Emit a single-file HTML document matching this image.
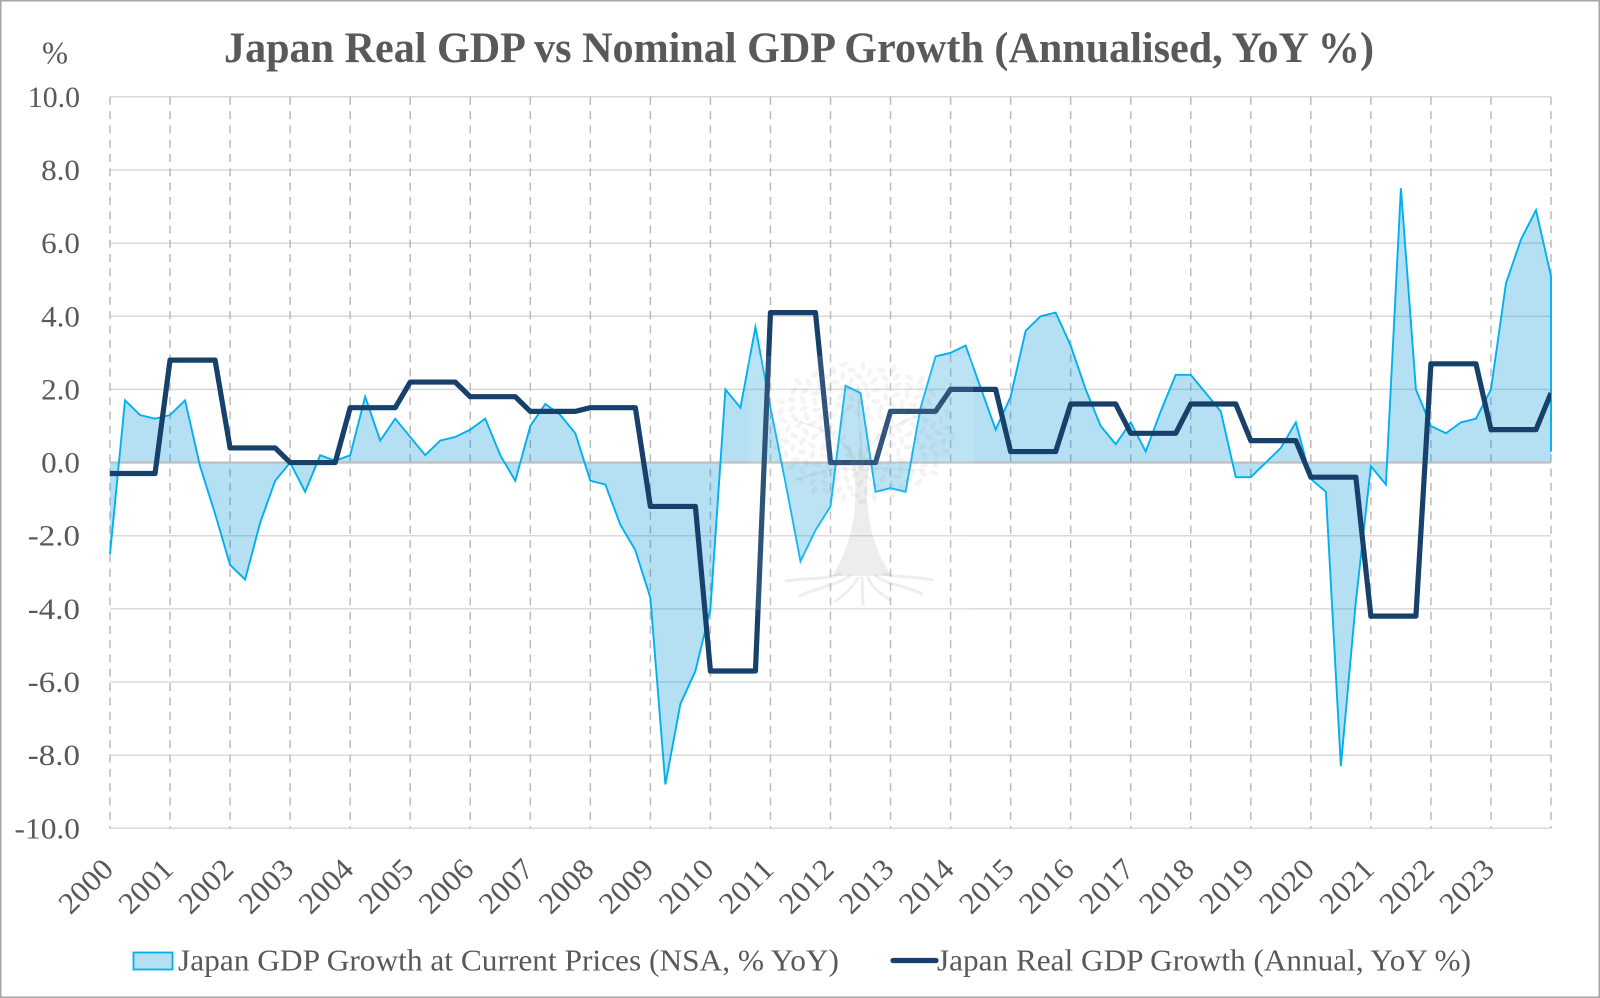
<!DOCTYPE html>
<html lang="en">
<head>
<meta charset="utf-8">
<title>Japan Real GDP vs Nominal GDP Growth</title>
<style>
html,body{margin:0;padding:0;background:#fff;}
#frame{position:relative;width:1600px;height:998px;overflow:hidden;background:#fff;}
svg{display:block;position:absolute;left:0;top:0;}
text{font-family:"Liberation Serif","DejaVu Serif",serif;fill:#595959;}
</style>
</head>
<body>
<div id="frame">
<svg id="chart" width="1600" height="998" viewBox="0 0 1600 998">
  <rect x="0.75" y="0.75" width="1598.5" height="996.5" fill="#fff" stroke="#a6a6a6" stroke-width="1.5"/>
  <text x="224" y="62" font-size="43" font-weight="700" textLength="1150" lengthAdjust="spacingAndGlyphs">Japan Real GDP vs Nominal GDP Growth (Annualised, YoY %)</text>
  <text x="42" y="63.5" font-size="32" textLength="26" lengthAdjust="spacingAndGlyphs">%</text>
  <g id="grid"></g>
  <g id="marks"></g>
  <g id="watermark"></g>
  <g id="axes"></g>
  <g>
    <g>
      <rect x="133.5" y="952.5" width="39" height="17" fill="#b5dff3" stroke="#00b0f0" stroke-width="1.8"/>
      <text x="178" y="970.5" font-size="31" textLength="661" lengthAdjust="spacingAndGlyphs">Japan GDP Growth at Current Prices (NSA, % YoY)</text>
    </g>
    <g>
      <line x1="893" y1="960.5" x2="936" y2="960.5" stroke="#17406b" stroke-width="5.2" stroke-linecap="round"/>
      <text x="937" y="970.5" font-size="31" textLength="534" lengthAdjust="spacingAndGlyphs">Japan Real GDP Growth (Annual, YoY %)</text>
    </g>
  </g>
</svg>
</div>
<script>
const yearLabels = ["2000","2001","2002","2003","2004","2005","2006","2007","2008","2009","2010","2011","2012","2013","2014","2015","2016","2017","2018","2019","2020","2021","2022","2023"];
const yTickValues = [10,8,6,4,2,0,-2,-4,-6,-8,-10];
const yTickLabels = ["10.0","8.0","6.0","4.0","2.0","0.0","-2.0","-4.0","-6.0","-8.0","-10.0"];
const nominalGrowth = [
  -2.5,1.7,1.3,1.2, 1.3,1.7,-0.1,-1.4, -2.8,-3.2,-1.65,-0.5, 0.0,-0.8,0.2,0.05,
  0.2,1.8,0.6,1.2, 0.7,0.2,0.6,0.7, 0.9,1.2,0.2,-0.5, 1.0,1.6,1.3,0.8,
  -0.5,-0.6,-1.7,-2.4, -3.7,-8.8,-6.6,-5.7, -4.0,2.0,1.5,3.7, 1.5,-0.55,-2.7,-1.85,
  -1.2,2.1,1.9,-0.8, -0.7,-0.8,1.5,2.9, 3.0,3.2,2.05,0.9, 1.8,3.6,4.0,4.1,
  3.2,2.0,1.0,0.5, 1.1,0.3,1.4,2.4, 2.4,1.9,1.4,-0.4, -0.4,0.0,0.4,1.1,
  -0.45,-0.8,-8.3,-3.8, -0.1,-0.6,7.5,2.0, 1.0,0.8,1.1,1.2, 2.0,4.9,6.1,6.9,
  5.1
];
const nominalFinalDrop = 0.3;
const realGrowth = [
  -0.3,-0.3,-0.3,-0.3, 2.8,2.8,2.8,2.8, 0.4,0.4,0.4,0.4, 0,0,0,0,
  1.5,1.5,1.5,1.5, 2.2,2.2,2.2,2.2, 1.8,1.8,1.8,1.8, 1.4,1.4,1.4,1.4,
  1.5,1.5,1.5,1.5, -1.2,-1.2,-1.2,-1.2, -5.7,-5.7,-5.7,-5.7, 4.1,4.1,4.1,4.1,
  0,0,0,0, 1.4,1.4,1.4,1.4, 2.0,2.0,2.0,2.0, 0.3,0.3,0.3,0.3,
  1.6,1.6,1.6,1.6, 0.8,0.8,0.8,0.8, 1.6,1.6,1.6,1.6, 0.6,0.6,0.6,0.6,
  -0.4,-0.4,-0.4,-0.4, -4.2,-4.2,-4.2,-4.2, 2.7,2.7,2.7,2.7, 0.9,0.9,0.9,0.9,
  1.9
];

const NS = "http://www.w3.org/2000/svg";
const plotLeft = 110, plotRight = 1551, plotTop = 96.8, plotBottom = 828.3;
const pointCount = nominalGrowth.length;
function xScale(i){ return plotLeft + (plotRight - plotLeft) * i / (pointCount - 1); }
function yScale(v){ return plotTop + (10 - v) * (plotBottom - plotTop) / 20; }
function make(tag, attrs, parent){
  const el = document.createElementNS(NS, tag);
  for (const k in attrs) el.setAttribute(k, attrs[k]);
  parent.appendChild(el);
  return el;
}
const grid = document.getElementById("grid");
const marks = document.getElementById("marks");
const axes = document.getElementById("axes");
const water = document.getElementById("watermark");

yTickValues.forEach(function(v, i){
  if (v !== 0) {
    const line = make("line", {x1:plotLeft, x2:plotRight, y1:yScale(v), y2:yScale(v), stroke:"#d9d9d9", "stroke-width":1.5}, grid);
    
    
  }
  const label = make("text", {x:80, y:yScale(v) + 10, "text-anchor":"end", "font-size":29.5, textLength: yTickLabels[i].length * 13.3 - 1, lengthAdjust:"spacingAndGlyphs"}, axes);
  label.textContent = yTickLabels[i];
  
  
});

for (let i = 0; i <= yearLabels.length; i++) {
  const x = xScale(i * 4);
  const line = make("line", {x1:x, x2:x, y1:plotTop, y2:plotBottom, stroke:"#bbbbbb", "stroke-width":1.5, "stroke-dasharray":"8 6.3"}, grid);
  
  
}
yearLabels.forEach(function(year, i){
  const x = xScale(i * 4) + 5, y = 871;
  const label = make("text", {x:x, y:y, "text-anchor":"end", "font-size":30, textLength:63, lengthAdjust:"spacingAndGlyphs", transform:"rotate(-45 " + x + " " + y + ")"}, axes);
  label.textContent = year;
  
  
});

const nominalPts = nominalGrowth.map(function(v, i){ return xScale(i).toFixed(2) + "," + yScale(v).toFixed(2); });
const endX = xScale(pointCount - 1).toFixed(2);
const areaPts = [plotLeft + "," + yScale(0)].concat(nominalPts, [endX + "," + yScale(0)]);
const area = make("polygon", {points:areaPts.join(" "), fill:"#0093d6", "fill-opacity":0.29, stroke:"none"}, marks);


const zeroLine = make("line", {x1:plotLeft, x2:plotRight, y1:yScale(0), y2:yScale(0), stroke:"#bdbdbd", "stroke-width":2.2}, marks);


const nominalLine = make("polyline", {points:nominalPts.concat([endX + "," + yScale(nominalFinalDrop).toFixed(2)]).join(" "), fill:"none", stroke:"#00b0f0", "stroke-width":1.9, "stroke-linejoin":"miter", "stroke-miterlimit":6}, marks);



const defs = make("defs", {}, marks);
const clip = make("clipPath", {id:"plot-clip"}, defs);
make("rect", {x:plotLeft, y:plotTop - 20, width:plotRight - plotLeft, height:plotBottom - plotTop + 40}, clip);
const realLine = make("polyline", {points:realGrowth.map(function(v, i){ return xScale(i).toFixed(2) + "," + yScale(v).toFixed(2); }).join(" "), fill:"none", stroke:"#17406b", "stroke-width":5.2, "stroke-linejoin":"round", "clip-path":"url(#plot-clip)"}, marks);



/* decorative tree watermark */
const veil = make("rect", {x:748, y:356, width:225, height:254, fill:"#fff", "fill-opacity":0.1}, water);


const trunk = make("path", {d:"M855 480 C857 510 852 545 832 576 L892 576 C870 545 866 510 867 480 L872 450 L864 470 L861 425 L858 470 L848 446 Z", fill:"#888", "fill-opacity":0.15}, water);


const rootPaths = ["M840 574 C825 580 805 578 786 581","M850 576 C835 586 815 588 800 596","M858 578 C852 588 845 594 836 601","M862 578 L863 604","M868 578 C874 590 882 594 890 600","M876 576 C890 586 908 586 922 594","M884 574 C900 578 915 576 932 580"];
rootPaths.forEach(function(d){
  const root = make("path", {d:d, fill:"none", stroke:"#888", "stroke-opacity":0.14, "stroke-width":3, "stroke-linecap":"round"}, water);
  
  
});
const branchPaths = ["M860 470 C850 440 825 430 795 420","M862 465 C870 430 900 425 930 410","M860 440 L858 385","M855 470 C835 465 815 475 795 480","M866 470 C885 465 905 472 925 470"];
branchPaths.forEach(function(d){
  const branch = make("path", {d:d, fill:"none", stroke:"#888", "stroke-opacity":0.1, "stroke-width":2, "stroke-linecap":"round"}, water);
  
  
});
for (let k = 8; k < 200; k++) {
  const angle = k * 2.39996;
  const r = Math.sqrt(k / 200);
  const cx = 861 + Math.cos(angle) * r * 92;
  const cy = 432 + Math.sin(angle) * r * 70;
  const leaf = make("ellipse", {cx:cx.toFixed(1), cy:cy.toFixed(1), rx:2.4, ry:4.6, fill:"#888", "fill-opacity":0.09, transform:"rotate(" + (k * 47 % 180) + " " + cx.toFixed(1) + " " + cy.toFixed(1) + ")"}, water);
  
  
}
</script>
</body>
</html>
